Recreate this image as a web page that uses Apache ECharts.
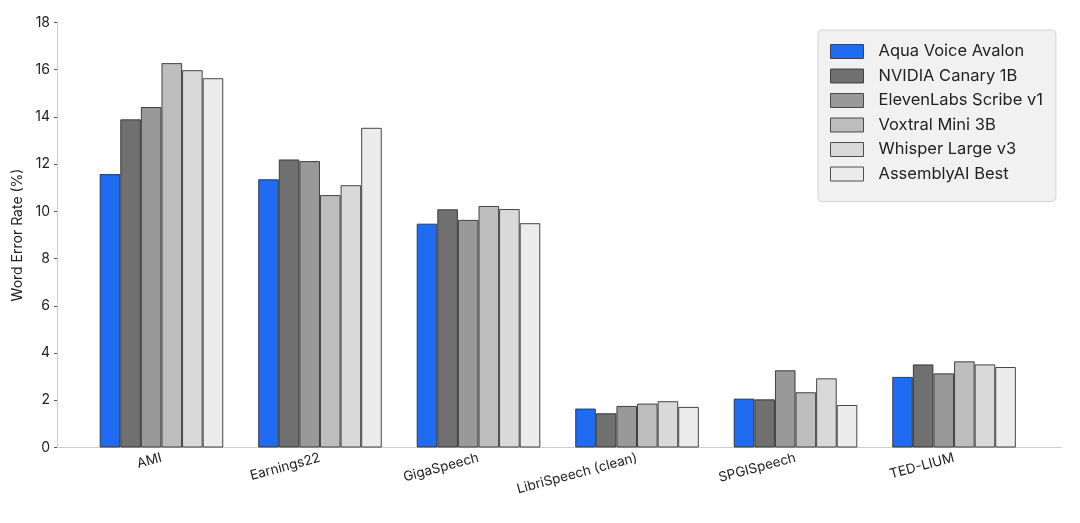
<!DOCTYPE html>
<html><head><meta charset="utf-8">
<script src="https://cdn.jsdelivr.net/npm/echarts@6/dist/echarts.min.js"></script>
<style>html,body{margin:0;padding:0;background:#fff}#c{width:1080px;height:523px}</style>
</head><body><div id="c"></div>
<script>
const categories = ['AMI', 'Earnings22', 'GigaSpeech', 'LibriSpeech (clean)', 'SPGISpeech', 'TED-LIUM'];
const seriesNames = ['Aqua Voice Avalon', 'NVIDIA Canary 1B', 'ElevenLabs Scribe v1', 'Voxtral Mini 3B', 'Whisper Large v3', 'AssemblyAI Best'];
const aquaVoice   = [11.58, 11.36, 9.48, 1.65, 2.07, 2.99];
const canary      = [13.90, 12.20, 10.09, 1.45, 2.04, 3.52];
const elevenLabs  = [14.42, 12.13, 9.64, 1.76, 3.27, 3.14];
const voxtral     = [16.28, 10.69, 10.23, 1.86, 2.34, 3.65];
const whisper     = [15.98, 11.11, 10.10, 1.96, 2.93, 3.52];
const assembly    = [15.64, 13.54, 9.50, 1.72, 1.80, 3.41];

const allValues = [aquaVoice, canary, elevenLabs, voxtral, whisper, assembly];
const colors = ['#1f6bf2', '#707070', '#999999', '#bdbdbd', '#d9d9d9', '#ececec'];

const chart = echarts.init(document.getElementById('c'));
const font = 'Inter, "Noto Sans", sans-serif';
chart.setOption({
  animation: false,
  textStyle: { fontFamily: font },
  grid: { left: 57, right: 18, top: 22.5, bottom: 75.5 },
  legend: {
    orient: 'vertical', left: 818, top: 30,
    icon: 'rect', itemWidth: 33, itemHeight: 14, itemGap: 7.5,
    padding: [13, 13, 19, 12],
    backgroundColor: '#f1f1f1', borderColor: '#d4d4d4', borderWidth: 1, borderRadius: 4,
    itemStyle: { borderColor: 'rgba(40,40,40,0.8)', borderWidth: 1 },
    textStyle: { fontSize: 16.5, color: '#222', fontFamily: font, padding: [0, 0, 0, 10] },
    data: seriesNames
  },
  xAxis: {
    type: 'value', min: -0.659, max: 5.681,
    splitLine: { show: false },
    axisLine: { show: true, onZero: false, lineStyle: { color: '#cccccc', width: 1 } },
    axisTick: { show: false },
    axisLabel: {
      customValues: categories.map((c, i) => i),
      formatter: v => categories[Math.round(v)] ?? '',
      rotate: 15, fontSize: 13.5, color: '#222', margin: 10, fontFamily: font
    }
  },
  yAxis: {
    type: 'value', min: 0, max: 18, interval: 2,
    name: 'Word Error Rate (%)', nameLocation: 'middle', nameGap: 27,
    nameTextStyle: { fontSize: 14, color: '#222', fontFamily: font },
    splitLine: { show: false },
    axisLine: { show: true, onZero: false, lineStyle: { color: '#cccccc', width: 1 } },
    axisTick: { show: true, length: 3, lineStyle: { color: '#555' } },
    axisLabel: { fontSize: 14, color: '#222', margin: 7, fontFamily: font }
  },
  series: seriesNames.map((name, si) => ({
    name, type: 'bar',
    barWidth: 20.6, barGap: '0%',
    itemStyle: { color: colors[si], borderColor: 'rgba(40,40,40,0.85)', borderWidth: 1 },
    data: allValues[si].map((v, i) => [i, v])
  }))
});
</script></body></html>
